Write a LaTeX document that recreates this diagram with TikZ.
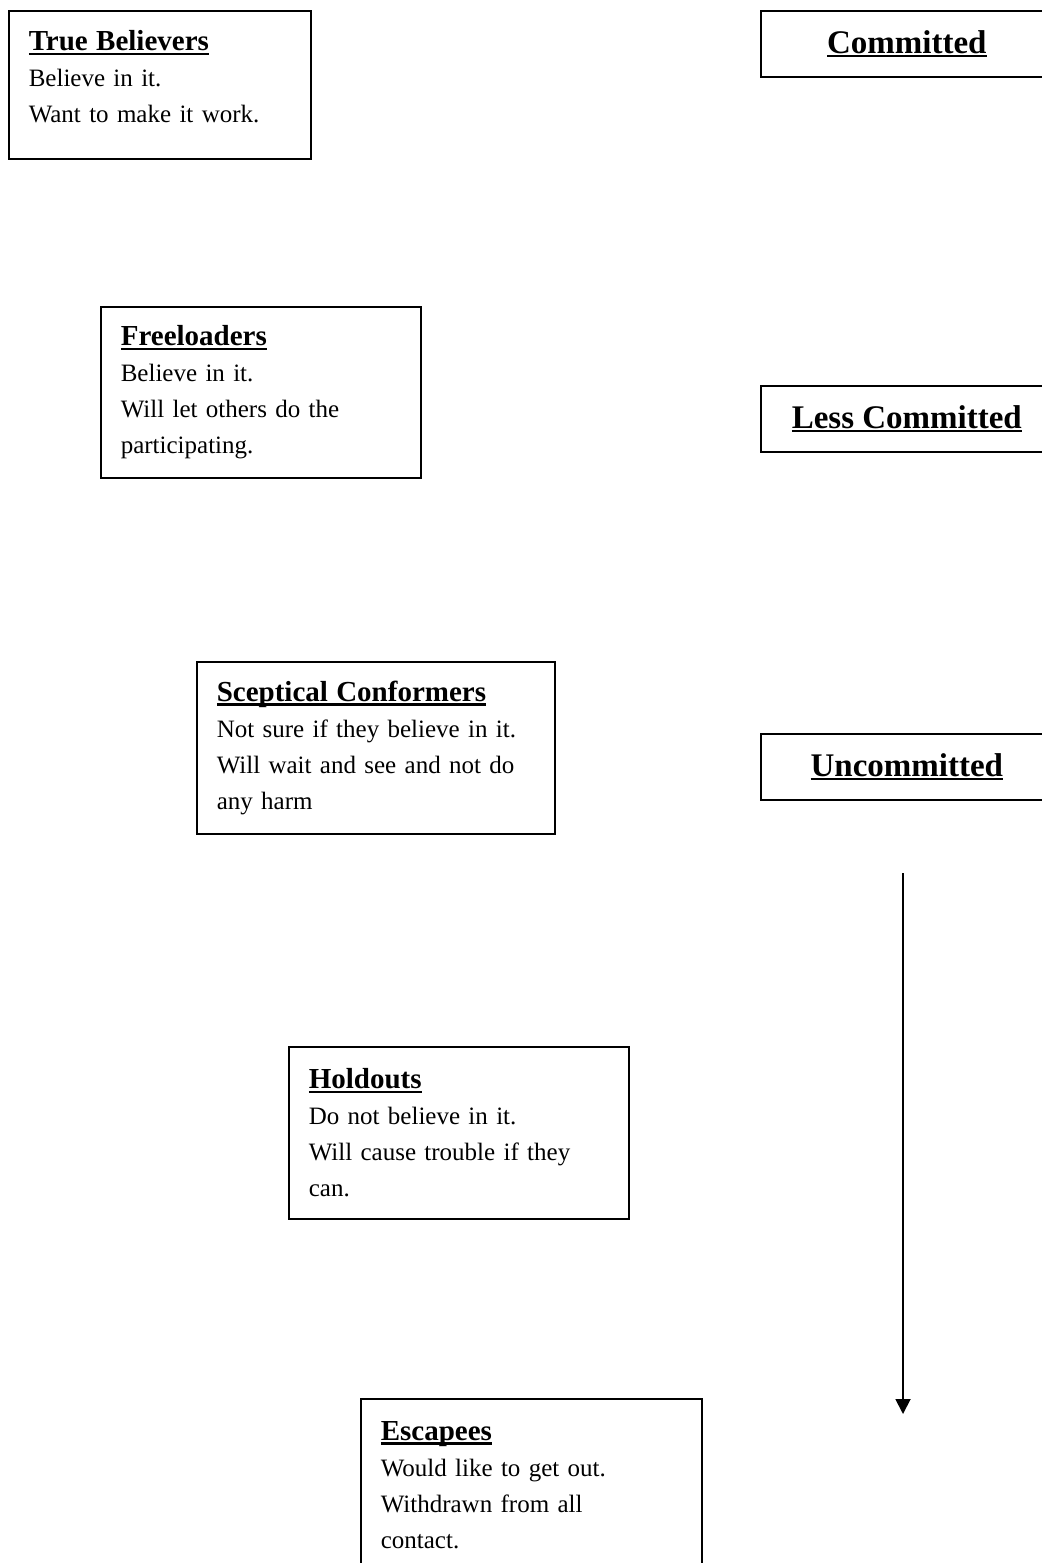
\documentclass[tikz,border=0pt]{standalone}
\usepackage{fontspec}
\setmainfont{Liberation Serif}
\usepackage{tikz}
\usetikzlibrary{arrows.meta, positioning}
\newcommand{\hdul}[1]{\setbox0\hbox{#1}\rlap{\rule[-2.2pt]{\wd0}{1.2pt}}\box0}
\newcommand{\grptitle}[1]{{\fontsize{14.5}{18}\selectfont\bfseries\hdul{#1}}}

\begin{document}
\begin{tikzpicture}[x=0.5pt, y=-0.5pt,
    grpbox/.style={draw, line width=0.8pt, anchor=north west,
      inner xsep=10pt, inner ysep=0pt, align=left,
      font=\fontsize{12.5}{18}\selectfont},
    levelbox/.style={draw, line width=0.8pt, anchor=north west,
      minimum width=146pt, minimum height=33pt,
      font=\fontsize{16.5}{20}\selectfont\bfseries}]
    \useasboundingbox (0,0) rectangle (1042,1563);

    % groups, stepping down to the right
    \node[grpbox, text width=131pt, minimum height=74pt] (believers) at (8,10) {
      \grptitle{True Believers}\\
      Believe in it.\\
      Want to make it work.\\[-10pt]\mbox{}
    };
    \node[grpbox, text width=140pt, minimum height=85.5pt] (freeloaders) at (100,306) {
      \grptitle{Freeloaders}\\
      Believe in it.\\
      Will let others do the\\
      participating.
    };
    \node[grpbox, text width=159pt, minimum height=86pt] (sceptics) at (196,661) {
      \grptitle{Sceptical Conformers}\\
      Not sure if they believe in it.\\
      Will wait and see and not do\\
      any harm
    };
    \node[grpbox, text width=150pt, minimum height=86pt] (holdouts) at (288,1046) {
      \grptitle{Holdouts}\\
      Do not believe in it.\\
      Will cause trouble if they\\
      can.
    };
    \node[grpbox, text width=150.5pt, minimum height=86pt] (escapees) at (360,1398) {
      \grptitle{Escapees}\\
      Would like to get out.\\
      Withdrawn from all\\
      contact.
    };

    % commitment scale
    \node[levelbox] (committed) at (760,10) {\hdul{Committed}};
    \node[levelbox] (lesscommitted) at (760,385) {\hdul{Less Committed}};
    \node[levelbox] (uncommitted) at (760,733) {\hdul{Uncommitted}};

    \coordinate (scaletop) at (903,873);
    \coordinate (scalebot) at (903,1414);
    \draw[-{Triangle[width=7.5pt,length=7.5pt]}, line width=0.9pt] (scaletop) -- (scalebot);
\end{tikzpicture}
\end{document}
